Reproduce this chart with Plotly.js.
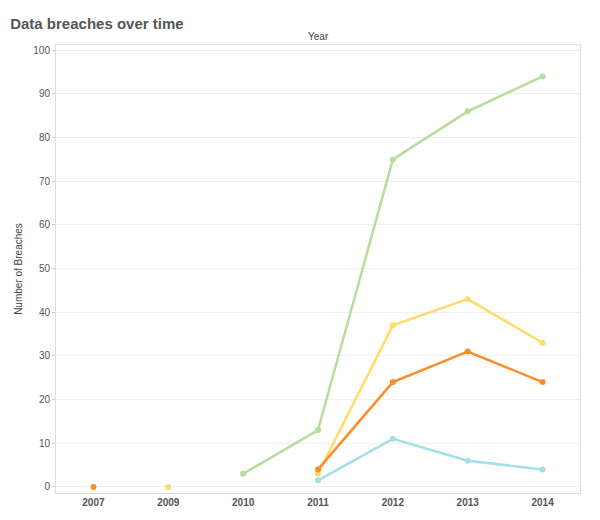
<!DOCTYPE html>
<html>
<head>
<script src="https://cdn.plot.ly/plotly-3.0.1.min.js"></script>
<style>body{margin:0;background:#fff}#chart{width:600px;height:520px}</style>
</head>
<body>
<div id="chart"></div>
<script>
// years shown on the x axis (categorical)
var years = ["2007","2009","2010","2011","2012","2013","2014"];

var greenYears = ["2010","2011","2012","2013","2014"];
var greenVals = [3, 13, 75, 86, 94];
var yellowYears = ["2009","2011","2012","2013","2014"];
var yellowVals = [0, 3, 37, 43, 33];
var orangeYears = ["2007","2011","2012","2013","2014"];
var orangeVals = [0, 4, 24, 31, 24];
var blueYears = ["2011","2012","2013","2014"];
var blueVals = [1.5, 11, 6, 4];

function series(x, y, color, gapAfterFirst) {
    // first point of yellow / orange stands alone (no line to it)
    var xs = x.slice(), ys = y.slice();
    if (gapAfterFirst) { xs.splice(1, 0, x[1]); ys.splice(1, 0, null); }
    return {
        x: xs, y: ys, type: "scatter", mode: "lines+markers",
        connectgaps: false,
        line: {color: color, width: 2.5},
        marker: {color: color, size: 6},
        hoverinfo: "x+y"
    };
}

var data = [
    series(greenYears, greenVals, "#b6dd9c", false),
    series(yellowYears, yellowVals, "#fcdc6a", true),
    series(orangeYears, orangeVals, "#fb8e2b", true),
    series(blueYears, blueVals, "#a4dfe9", false)
];

var layout = {
    width: 600, height: 520,
    margin: {l: 56, r: 20, t: 45, b: 27},
    showlegend: false,
    font: {family: "Liberation Sans, Arial, sans-serif", color: "#555", size: 10},
    title: {text: "<b>Data breaches over time</b>", x: 0.017, xanchor: "left", y: 0.965,
            font: {size: 15, color: "#555"}},
    xaxis: {
        type: "category", categoryorder: "array", categoryarray: years,
        range: [-0.5, 6.5],
        showgrid: false, showline: true, linecolor: "#ddd", mirror: true,
        ticks: "", tickfont: {size: 10, color: "#555", family: "Liberation Sans"},
        tickprefix: "<b>", ticksuffix: "</b>",
        minor: {showgrid: true, gridcolor: "#eee", ticks: "outside", ticklen: 4, tickcolor: "#ccc"},
        zeroline: false
    },
    yaxis: {
        range: [-1.4, 101.2], dtick: 10,
        showgrid: true, gridcolor: "#f0f0f0",
        showline: true, linecolor: "#ddd", mirror: true,
        ticks: "outside", ticklen: 3, tickcolor: "#ccc",
        zeroline: false,
        title: {text: "Number of Breaches", font: {size: 10, color: "#444"}, standoff: 8}
    },
    annotations: [{text: "Year", xref: "paper", yref: "paper", x: 0.5, y: 1, yanchor: "bottom",
                   yshift: 1, showarrow: false, font: {size: 10, color: "#444"}}]
};

Plotly.newPlot("chart", data, layout, {displayModeBar: false});
</script>
</body>
</html>
